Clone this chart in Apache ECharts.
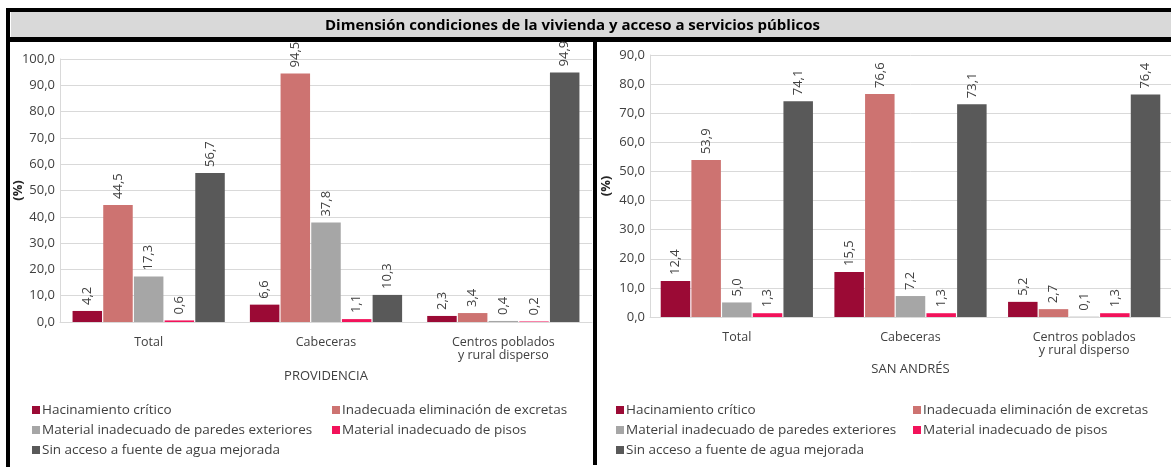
<!DOCTYPE html>
<html>
<head>
<meta charset="utf-8">
<script src="https://cdn.jsdelivr.net/npm/echarts@6/dist/echarts.min.js"></script>
<style>
  html, body { margin: 0; padding: 0; background: #fff; }
  #chart { width: 1171px; height: 467px; }
</style>
</head>
<body>
<div id="chart"></div>
<script>
// datos
const categories = ['Total', 'Cabeceras', 'Centros poblados\ny rural disperso']
const seriesNames = [
  'Hacinamiento crítico',
  'Inadecuada eliminación de excretas',
  'Material inadecuado de paredes exteriores',
  'Material inadecuado de pisos',
  'Sin acceso a fuente de agua mejorada'
]
const colors = ['#9b0a35', '#cd7371', '#a6a6a6', '#f2125a', '#595959']

// PROVIDENCIA
const provHacinamiento = [4.2, 6.6, 2.3]
const provExcretas = [44.5, 94.5, 3.4]
const provParedes = [17.3, 37.8, 0.4]
const provPisos = [0.6, 1.1, 0.2]
const provAgua = [56.7, 10.3, 94.9]

// SAN ANDRÉS
const sanHacinamiento = [12.4, 15.5, 5.2]
const sanExcretas = [53.9, 76.6, 2.7]
const sanParedes = [5.0, 7.2, 0.1]
const sanPisos = [1.3, 1.3, 1.3]
const sanAgua = [74.1, 73.1, 76.4]

const provData = [provHacinamiento, provExcretas, provParedes, provPisos, provAgua]
const sanData = [sanHacinamiento, sanExcretas, sanParedes, sanPisos, sanAgua]

const FONT = 'Open Sans'
const fmt = v => v.toFixed(1).replace('.', ',')

const chart = echarts.init(document.getElementById('chart'))

const makeSeries = (data, axisIndex, barWidth) => data.map((vals, i) => ({
  name: seriesNames[i],
  type: 'bar',
  xAxisIndex: axisIndex,
  yAxisIndex: axisIndex,
  barWidth: barWidth,
  barGap: '4%',
  data: vals,
  itemStyle: { color: colors[i] },
  label: {
    show: true,
    position: 'top',
    rotate: 90,
    align: 'left',
    verticalAlign: 'middle',
    distance: 6,
    fontFamily: FONT,
    fontSize: 13,
    color: '#404040',
    formatter: p => fmt(p.value)
  }
}))

const xAxisBase = (gridIndex, name, nameGap) => ({
  type: 'category',
  gridIndex: gridIndex,
  data: categories,
  name: name,
  nameLocation: 'middle',
  nameGap: nameGap,
  nameTextStyle: { fontFamily: FONT, fontSize: 13, color: '#404040' },
  axisLine: { lineStyle: { color: '#d9d9d9' } },
  axisTick: { show: false },
  axisLabel: { fontFamily: FONT, fontSize: 12.5, color: '#404040', margin: 14, lineHeight: 13, interval: 0 }
})

const yAxisBase = (gridIndex, max, nameGap) => ({
  type: 'value',
  gridIndex: gridIndex,
  min: 0,
  max: max,
  interval: 10,
  name: '(%)',
  nameLocation: 'middle',
  nameRotate: 90,
  nameGap: nameGap,
  nameMoveOverlap: false,
  nameTextStyle: { fontFamily: FONT, fontSize: 13, fontWeight: 'bold', color: '#262626' },
  axisLine: { show: true, lineStyle: { color: '#d9d9d9' } },
  axisLabel: { fontFamily: FONT, fontSize: 13, color: '#404040', margin: 5, formatter: v => fmt(v) },
  splitLine: { lineStyle: { color: '#d9d9d9' } }
})

const legendBase = (left, names) => ({
  left: left,
  top: 403,
  padding: 0,
  orient: 'vertical',
  itemWidth: 8,
  itemHeight: 8,
  itemGap: 6,
  icon: 'rect',
  selectedMode: false,
  data: names,
  textStyle: { fontFamily: FONT, fontSize: 13.5, color: '#404040', padding: [0, 0, 0, -3] }
})

const option = {
  animation: false,
  backgroundColor: '#fff',
  title: {
    text: 'Dimensión condiciones de la vivienda y acceso a servicios públicos',
    left: 325,
    top: 18,
    padding: 0,
    textStyle: { fontFamily: FONT, fontSize: 15, fontWeight: 'bold', color: '#000' }
  },
  graphic: [
    { type: 'rect', shape: { x: 11, y: 12, width: 1160, height: 25 }, style: { fill: '#d9d9d9' }, z: -1 },
    { type: 'rect', shape: { x: 6, y: 8, width: 1165, height: 4 }, style: { fill: '#000' } },
    { type: 'rect', shape: { x: 6, y: 37, width: 1165, height: 5 }, style: { fill: '#000' } },
    { type: 'rect', shape: { x: 6, y: 8, width: 4, height: 459 }, style: { fill: '#000' } },
    { type: 'rect', shape: { x: 593, y: 40, width: 4, height: 425 }, style: { fill: '#000' } }
  ],
  grid: [
    { left: 60, top: 59, width: 532, height: 263 },
    { left: 650, top: 55, width: 531, height: 262 }
  ],
  xAxis: [
    xAxisBase(0, 'PROVIDENCIA', 48),
    xAxisBase(1, 'SAN ANDRÉS', 46)
  ],
  yAxis: [
    yAxisBase(0, 100, 35),
    yAxisBase(1, 90, 37)
  ],
  legend: [
    legendBase(32, [seriesNames[0], seriesNames[2], seriesNames[4]]),
    legendBase(332, [seriesNames[1], seriesNames[3]]),
    legendBase(616, [seriesNames[0], seriesNames[2], seriesNames[4]]),
    legendBase(913, [seriesNames[1], seriesNames[3]])
  ],
  series: [
    ...makeSeries(provData, 0, 29.5),
    ...makeSeries(sanData, 1, 29.5)
  ]
}

chart.setOption(option)
</script>
</body>
</html>
